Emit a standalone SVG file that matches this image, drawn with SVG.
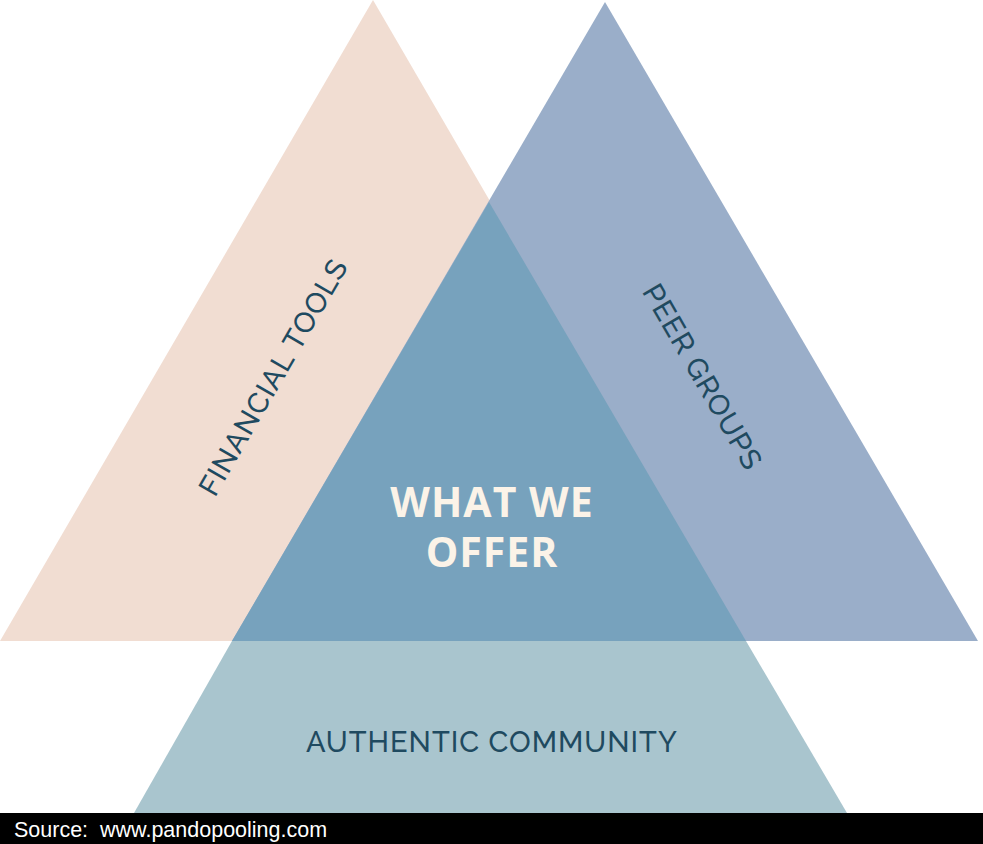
<svg xmlns="http://www.w3.org/2000/svg" width="983" height="844" viewBox="0 0 983 844">
<style>
.lbl{font-family:Raleway,"Open Sans","Liberation Sans",sans-serif;font-size:29px;font-weight:500;fill:#1F4A60;text-anchor:middle;letter-spacing:1px}
.ctr{font-family:"Open Sans","Liberation Sans",sans-serif;font-size:41px;font-weight:bold;fill:#FBF3E8;text-anchor:middle;letter-spacing:1px}
</style>
<rect width="983" height="844" fill="#fff"/>
<g id="financial-tools">
<polygon points="373,0 0,641 746,641" fill="#F1DDD2"/>
<text class="lbl" transform="translate(282,382) rotate(-60)">FINANCIAL TOOLS</text>
</g>
<g id="peer-groups">
<polygon points="605,2 232,641 978,641" fill="#9AAEC9"/>
<text class="lbl" transform="translate(694,382) rotate(60)">PEER GROUPS</text>
</g>
<g id="authentic-community">
<polygon points="232,641 746,641 847,813 134,813" fill="#A9C5CE"/>
<text class="lbl" x="492" y="752">AUTHENTIC COMMUNITY</text>
</g>
<g id="what-we-offer">
<polygon points="489,202 232,641 746,641" fill="#77A2BD"/>
<text class="ctr" x="492" y="517">WHAT WE</text>
<text class="ctr" x="492" y="567">OFFER</text>
</g>
<g id="footer">
<rect x="0" y="813" width="983" height="31" fill="#000"/>
<text x="14" y="837" font-family="'Liberation Sans',sans-serif" font-size="21.5" fill="#fff" xml:space="preserve">Source:  www.pandopooling.com</text>
</g>
<g id="connectors"/>
</svg>
